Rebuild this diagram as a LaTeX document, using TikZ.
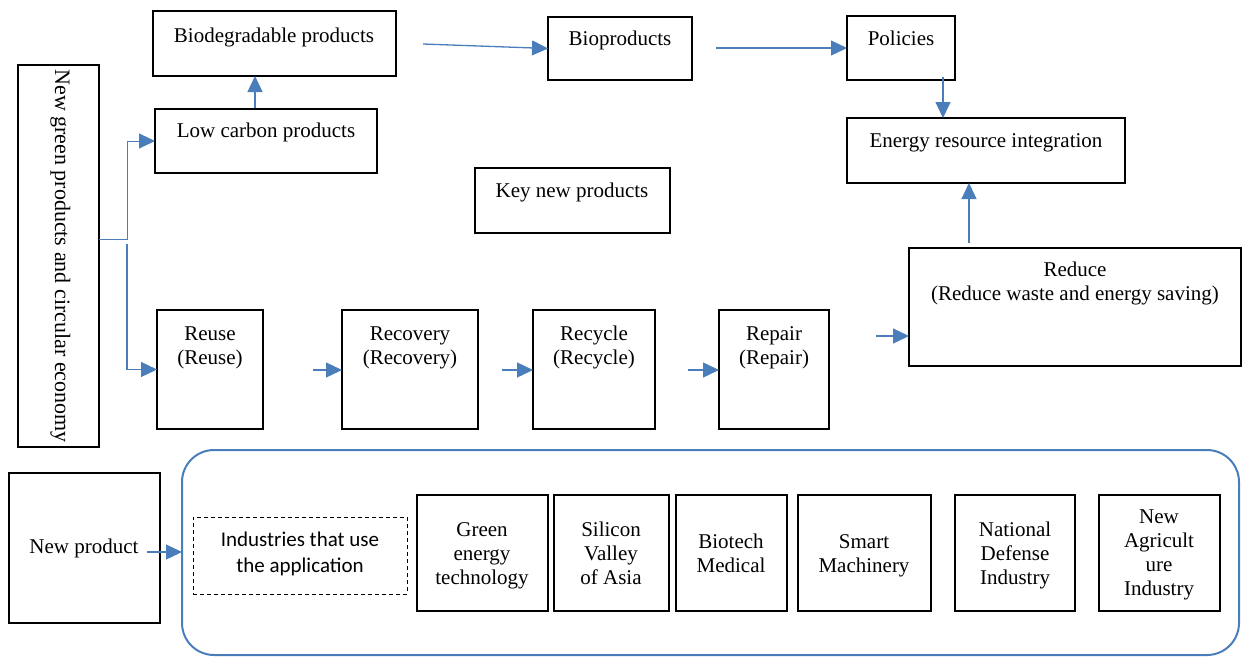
\documentclass[tikz,border=0pt]{standalone}
\usepackage{fontspec}
\setmainfont{Liberation Serif}
\newfontfamily\calfont{Carlito}
\usetikzlibrary{arrows.meta}
\definecolor{blu}{RGB}{74,126,187}
\newcommand\tmsize{\fontsize{21}{24}\selectfont}
\newcommand\bs{\rule{0pt}{17pt}}
\newcommand\mkbox[6][box]{\node[#1, minimum width=#5pt, minimum height=#6pt] (#2) at (#3,#4) {};}
\tikzset{
  box/.style={draw=black, line width=1.1pt, anchor=north west, inner sep=0pt, outer sep=0pt},
  dbox/.style={box, line width=0.9pt, dash pattern=on 4pt off 3pt},
  panel/.style={box, draw=blu, line width=2pt, rounded corners=32pt},
  txt/.style={anchor=north, inner sep=0pt, outer sep=0pt, align=center, font=\tmsize, yshift=17pt},
  arr/.style={draw=blu, line width=1.3pt, -{Triangle[length=16pt,width=15pt]}},
}
\begin{document}
\begin{tikzpicture}[x=1pt, y=-1pt]
\useasboundingbox (0,0) rectangle (1243,657);

% frames
\mkbox{bio}{153}{11}{243}{65}
\mkbox{low}{155}{109}{222}{64}
\mkbox{bprod}{548}{17}{144}{63}
\mkbox{pol}{847}{16}{108}{64}
\mkbox{ener}{847}{118}{278}{65}
\mkbox{key}{475}{168}{195}{65}
\mkbox{red}{909}{248}{332}{118}
\mkbox{side}{18}{65}{81}{382}
\mkbox{reuse}{157}{310}{106}{119}
\mkbox{recov}{342}{310}{136}{119}
\mkbox{recyc}{533}{310}{122}{119}
\mkbox{repair}{719}{310}{110}{119}
\mkbox{newp}{9}{473}{151}{150}
\mkbox[panel]{apps}{182}{450}{1057}{205}
\mkbox[dbox]{dash}{193}{517}{214}{77}
\mkbox{green}{417}{495}{131}{116}
\mkbox{silicon}{554}{495}{115}{116}
\mkbox{biotech}{676}{495}{111}{116}
\mkbox{smart}{798}{495}{133}{116}
\mkbox{defense}{955}{495}{120}{116}
\mkbox{agri}{1099}{495}{121}{116}

% labels
\node[txt] (tbio) at (274,42) {\bs Biodegradable products};
\node[txt] (tlow) at (266,137) {\bs Low carbon products};
\node[txt] (tbprod) at (620,45) {\bs Bioproducts};
\node[txt] (tpol) at (901,45) {\bs Policies};
\node[txt] (tener) at (986,147) {\bs Energy resource integration};
\node[txt] (tkey) at (572,197) {\bs Key new products};
\node[txt] (tred) at (1075,276) {\bs Reduce\\(Reduce waste and energy saving)};
\node[txt] (treuse) at (210,340) {\bs Reuse\\(Reuse)};
\node[txt] (trecov) at (410,340) {\bs Recovery\\(Recovery)};
\node[txt] (trecyc) at (594,340) {\bs Recycle\\(Recycle)};
\node[txt] (trepair) at (774,340) {\bs Repair\\(Repair)};
\node[txt] (tnewp) at (84,553) {\bs New product};
\node[txt, font=\calfont\fontsize{21}{26}\selectfont] (tdash) at (300,546) {\bs Industries that use\\the application};
\node[txt] (tgreen) at (482,536) {\bs Green\\energy\\technology};
\node[txt] (tsilicon) at (611,536) {\bs Silicon\\Valley\\of Asia};
\node[txt] (tbiotech) at (731,548) {\bs Biotech\\Medical};
\node[txt] (tsmart) at (864,548) {\bs Smart\\Machinery};
\node[txt] (tdefense) at (1015,536) {\bs National\\Defense\\Industry};
\node[txt] (tagri) at (1159,523) {\bs New\\Agricult\\ure\\Industry};
\node[anchor=base, inner sep=0pt, rotate=-90, font=\fontsize{22}{26}\selectfont] (tside) at (55,256) {New green products and circular economy};

% connector ends
\coordinate (j1) at (99,239);
\coordinate (j2) at (127,244);
\coordinate (c0) at (255,108);
\coordinate (c1) at (423,44);
\coordinate (c2) at (716,48);
\coordinate (c3) at (943,77);
\coordinate (c4) at (969,243);
\coordinate (c5) at (876,336);
\coordinate (r1) at (313,370);
\coordinate (r2) at (502,370);
\coordinate (r3) at (688,370);
\coordinate (c9) at (147,552);

% connectors
\draw[arr, line width=1pt] (j1) -- ++(28,0) |- (low.west);
\draw[arr] (j2) |- (reuse.west);
\draw[arr] (c0) -- (c0 |- bio.south);
\draw[arr] (c1) -- (bprod.west);
\draw[arr] (c2) -- (c2 -| pol.west);
\draw[arr] (c3) -- (c3 |- ener.north);
\draw[arr] (c4) -- (c4 |- ener.south);
\draw[arr] (c5) -- (c5 -| red.west);
\draw[arr] (r1) -- (r1 -| recov.west);
\draw[arr] (r2) -- (r2 -| recyc.west);
\draw[arr] (r3) -- (r3 -| repair.west);
\draw[arr] (c9) -- (c9 -| apps.west);
\end{tikzpicture}
\end{document}
